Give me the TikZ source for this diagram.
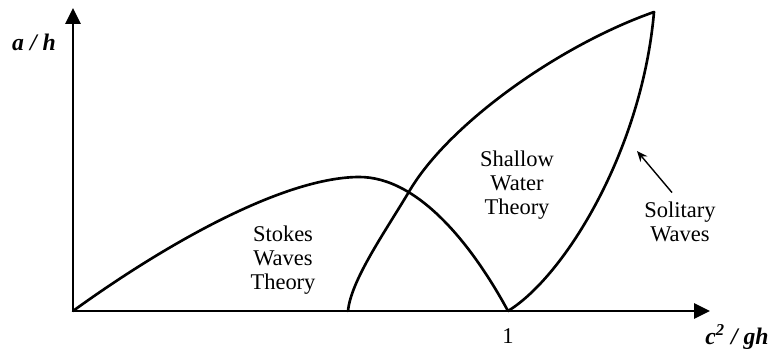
\documentclass[tikz,border=0pt]{standalone}
\usepackage{fontspec}
\setmainfont{Liberation Serif}
\usetikzlibrary{arrows.meta, positioning}

\begin{document}
\begin{tikzpicture}[x=0.02cm, y=-0.02cm,
      axis/.style={line width=1.6pt, {Triangle[length=9pt, width=8.5pt]}-{Triangle[length=9pt, width=8.5pt]}},
      curve/.style={line width=1.5pt, line cap=round},
      pointer/.style={line width=0.8pt, -{Stealth[length=6pt, width=5pt]}},
      region/.style={align=center, inner sep=0pt, font=\fontsize{12.8}{13.8}\selectfont},
      axlbl/.style={inner sep=0pt, font=\fontsize{13.5}{15}\selectfont\bfseries\itshape}]
    \useasboundingbox (0,0) rectangle (777,348);
    \coordinate (o)     at (73,311);
    \coordinate (ytop)  at (73,8);
    \coordinate (xend)  at (710,311);
    \coordinate (one)   at (508,311);
    \coordinate (deep)  at (348,311);
    \coordinate (crest) at (654,12);
    \coordinate (stokestop) at (358,177);
    \coordinate (cross) at (410,190);
    \coordinate (soltip) at (637,151);
    % axes
    \draw[axis] (ytop) |- (xend);
    \node[axlbl] (ylbl) at (34,42) {a / h};
    \node[axlbl] (xlbl) at (737,337) {c\textsuperscript{2} / gh};
    \node[region, below=10pt of one] (onelbl) {1};
    % regions
    \draw[curve] (o) .. controls (160,248) and (280,178) .. (stokestop)
                     .. controls (420,176) and (475,250) .. (one);
    \draw[curve] (deep) .. controls (351,280) and (385,232) .. (cross)
                        .. controls (450,123) and (560,45) .. (crest);
    \draw[curve] (one) .. controls (565,276) and (642,150) .. (crest);
    \node[region] (stokes)   at (283,260) {Stokes\\Waves\\Theory};
    \node[region] (shallow)  at (517,185) {Shallow\\Water\\Theory};
    \node[region] (solitary) at (680,222) {Solitary\\Waves};
    \draw[pointer] (solitary.north) ++(-8,-9) -- (soltip);
  \end{tikzpicture}
\end{document}
